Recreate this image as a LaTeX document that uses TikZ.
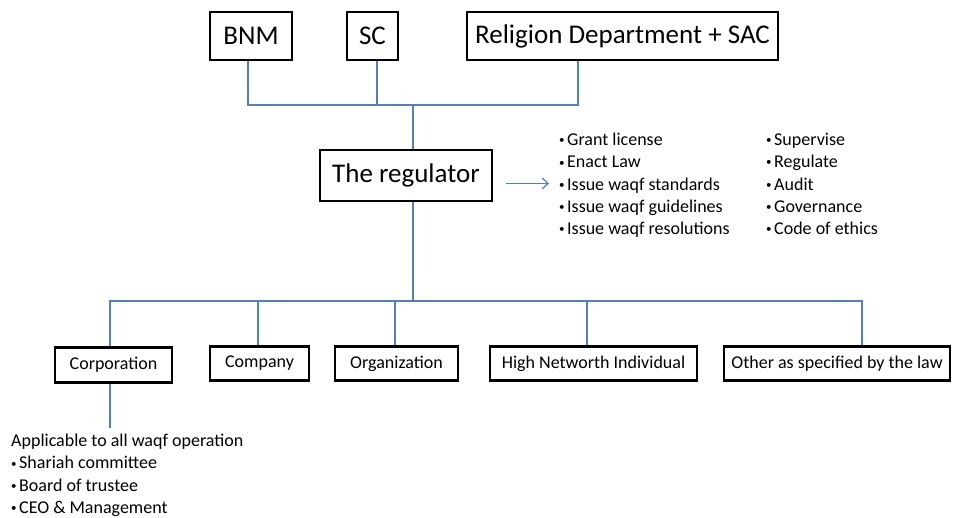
\documentclass[tikz,border=0pt]{standalone}
\usepackage{fontspec}
\setmainfont{Carlito}
\usetikzlibrary{arrows.meta}
\definecolor{linkblue}{RGB}{79,129,189}
\newcommand{\bul}{\raisebox{1.9pt}{\fontsize{11}{11}\selectfont\textbullet}\kern2.5pt}
\tikzset{
BOX/.style={draw=black, line width=2.4pt, inner sep=0pt, font=\fontsize{#1}{#1}\selectfont},
BOX/.default = 18,
LINK/.style={draw=linkblue, line width=1.2pt},
LIST/.style={inner sep=0pt, align=left, anchor=north west, font=\fontsize{18}{22.3}\selectfont},
}
\begin{document}
\begin{tikzpicture}
[x=1pt, y=-1pt]
	\useasboundingbox (0,0) rectangle (953,518);
	\node[BOX=27, minimum width=82, minimum height=48] (bnm) at (251,36) {BNM};
	\node[BOX=27, minimum width=51, minimum height=48] (sc) at (372.5,36) {SC};
	\node[BOX=27, minimum width=311, minimum height=48] (rel) at (622.5,36) {Religion Department + SAC};
	\node[BOX=27, minimum width=172, minimum height=51] (reg) at (406,175.5) {The regulator};
	\node[LIST] (task1) at (559,133) {\bul Grant license\\ \bul Enact Law\\ \bul Issue waqf standards\\ \bul Issue waqf guidelines\\ \bul Issue waqf resolutions};
	\node[LIST] (task2) at (766,133) {\bul Supervise\\ \bul Regulate\\ \bul Audit\\ \bul Governance\\ \bul Code of ethics};
	\node[BOX, minimum width=117, minimum height=35] (corp) at (113.5,365) {Corporation};
	\node[BOX, minimum width=99, minimum height=34] (comp) at (259.5,363.5) {Company};
	\node[BOX, minimum width=123, minimum height=34] (org) at (396.5,363.5) {Organization};
	\node[BOX, minimum width=207, minimum height=34] (hni) at (593.5,363.5) {High Networth Individual};
	\node[BOX, minimum width=226, minimum height=34] (oth) at (837,363.5) {Other as specified by the law};
	\node[LIST] (note) at (11,434) {Applicable to all waqf operation\\ \bul Shariah committee\\ \bul Board of trustee\\ \bul CEO \& Management};
	\coordinate (top) at (413,105);
	\coordinate (bot) at (413,301);
	\draw[LINK] ([xshift=-3pt]bnm.south) |- (top);
	\draw[LINK] ([xshift=4.5pt]sc.south) |- (top);
	\draw[LINK] ([xshift=-44.5pt]rel.south) |- (top);
	\draw[LINK] (top) -- (top |- reg.north);
	\draw[LINK] (top |- reg.south) -- (bot);
	\draw[LINK, -{Straight Barb[length=6pt,width=11pt]}, shorten >=10pt] ([xshift=13pt,yshift=2pt]reg.east |- task1.west) -- ([yshift=2pt]task1.west);
	\foreach \b/\s in {corp/-3.5, comp/-1.5, org/-1.5, hni/-6.5, oth/25} {
	\draw[LINK] (bot) -| ([xshift=\s pt]\b.north);}
	\draw[LINK] ([xshift=-3.5pt]corp.south) -- ([xshift=-3.5pt]corp.south |- 0,428);
\end{tikzpicture}
\end{document}
